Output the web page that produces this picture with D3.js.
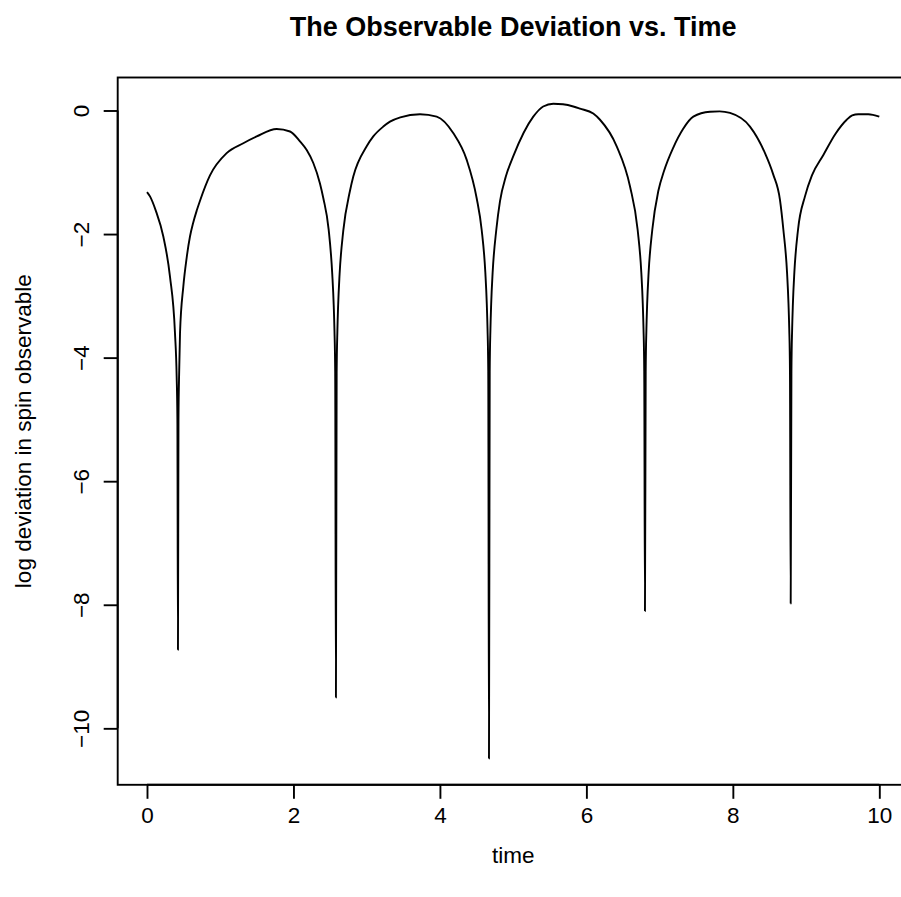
<!DOCTYPE html>
<html>
<head>
<meta charset="utf-8">
<script src="https://cdn.jsdelivr.net/npm/d3@7"></script>
<style>
  html, body { margin: 0; padding: 0; background: #fff; }
  svg { display: block; font-family: "Liberation Sans", Arial, Helvetica, sans-serif; }
</style>
</head>
<body>
<svg id="chart" width="901" height="897"></svg>
<script>
// ---- data ----
const chartTitle = "The Observable Deviation vs. Time";
const xLabel = "time";
const yLabel = "log deviation in spin observable";

const time = [
  0, 0.041, 0.12, 0.223, 0.314, 0.382, 0.405, 0.415, 0.423, 0.43, 0.44, 0.451,
  0.496, 0.542, 0.587, 0.63, 0.679, 0.724, 0.86, 1.088, 1.315, 1.498, 1.771, 1.953,
  2.089, 2.181, 2.271, 2.362, 2.408, 2.48, 2.53, 2.55, 2.56, 2.57, 2.58, 2.59,
  2.60, 2.61, 2.63, 2.68, 2.772, 2.817, 3.0, 3.09, 3.227, 3.318, 3.459, 3.728,
  3.956, 4.184, 4.366, 4.502, 4.57, 4.62, 4.64, 4.65, 4.66, 4.67, 4.68, 4.69,
  4.70, 4.72, 4.77, 4.82, 4.9, 5.002, 5.275, 5.41, 5.548, 5.68, 5.821, 5.913, 6.094, 6.186,
  6.414, 6.596, 6.70, 6.75, 6.77, 6.78, 6.79, 6.80, 6.81, 6.82, 6.83, 6.85,
  6.90, 6.983, 7.06, 7.187, 7.32, 7.46, 7.688, 7.82, 7.961, 8.234, 8.439, 8.55, 8.644, 8.69, 8.74,
  8.76, 8.77, 8.78, 8.79, 8.80, 8.81, 8.82, 8.84, 8.89, 8.985, 9.08, 9.236, 9.4, 9.555,
  9.63, 9.713, 9.85, 10
];
const logDeviation = [
  -1.32, -1.39, -1.62, -2.04, -2.69, -3.60, -4.30, -5.00, -8.73, -5.00, -4.20, -3.60,
  -2.85, -2.38, -2.04, -1.82, -1.62, -1.46, -1.05, -0.69, -0.53, -0.42, -0.30, -0.34,
  -0.50, -0.64, -0.85, -1.18, -1.42, -1.92, -2.65, -3.16, -3.56, -4.25, -9.50, -4.25,
  -3.56, -3.16, -2.65, -1.95, -1.30, -1.07, -0.58, -0.42, -0.26, -0.18, -0.11, -0.06,
  -0.10, -0.37, -0.80, -1.42, -1.93, -2.62, -3.13, -3.53, -4.22, -10.49, -4.22, -3.53,
  -3.13, -2.62, -1.93, -1.47, -1.07, -0.74, -0.10, 0.065, 0.11, 0.10, 0.065, 0.03, -0.05, -0.15,
  -0.58, -1.23, -1.93, -2.62, -3.13, -3.53, -4.22, -8.10, -4.22, -3.53, -3.13, -2.62,
  -1.93, -1.30, -0.98, -0.60, -0.30, -0.10, -0.02, -0.015, -0.04, -0.26, -0.69, -1.03, -1.45, -1.93, -2.62,
  -3.13, -3.53, -4.22, -7.98, -4.22, -3.53, -3.13, -2.62, -1.93, -1.39, -1.05, -0.72, -0.38, -0.15,
  -0.08, -0.06, -0.06, -0.10
];
const xTicks = [0, 2, 4, 6, 8, 10];
const yTicks = [0, -2, -4, -6, -8, -10];

// ---- layout ----
const svg = d3.select("#chart");
const plot = { left: 117.7, right: 908.6, top: 77.5, bottom: 784.8 };

// R-style 4% domain extension
const xMin = d3.min(time), xMax = d3.max(time);
const yMin = d3.min(logDeviation), yMax = d3.max(logDeviation);
const xPad = (xMax - xMin) * 0.04, yPad = (yMax - yMin) * 0.04;

const x = d3.scaleLinear().domain([xMin - xPad, xMax + xPad]).range([plot.left, plot.right]);
const y = d3.scaleLinear().domain([yMin - yPad, yMax + yPad]).range([plot.bottom, plot.top]);

const fontSize = 22.5;
const lw = 1.9;

// plot box
svg.append("rect")
  .attr("x", plot.left).attr("y", plot.top)
  .attr("width", plot.right - plot.left).attr("height", plot.bottom - plot.top)
  .attr("fill", "none").attr("stroke", "#000").attr("stroke-width", lw);

// x axis
const xAxis = d3.axisBottom(x).tickValues(xTicks).tickSize(14).tickPadding(8)
  .tickFormat(d3.format("d"));
const gx = svg.append("g").attr("transform", `translate(0,${plot.bottom})`).call(xAxis);
gx.select(".domain").attr("d", `M${x(xTicks[0])},0H${x(xTicks[xTicks.length-1])}`)
  .attr("stroke-width", lw);
gx.selectAll(".tick line").attr("stroke-width", lw);
gx.selectAll(".tick text").attr("font-size", fontSize).attr("font-family", "Liberation Sans, Arial, sans-serif").attr("fill", "#000");

// y axis
const yAxis = d3.axisLeft(y).tickValues(yTicks).tickSize(14).tickPadding(0)
  .tickFormat(d => d3.format("d")(d).replace("-", "\u2212"));
const gy = svg.append("g").attr("transform", `translate(${plot.left},0)`).call(yAxis);
gy.select(".domain").attr("d", `M0,${y(yTicks[yTicks.length-1])}V${y(yTicks[0])}`)
  .attr("stroke-width", lw);
gy.selectAll(".tick line").attr("stroke-width", lw);
gy.selectAll(".tick text")
  .attr("font-size", fontSize).attr("font-family", "Liberation Sans, Arial, sans-serif").attr("fill", "#000")
  .attr("x", null).attr("dy", null)
  .attr("text-anchor", "middle")
  .attr("transform", "translate(-29,0) rotate(-90)");

// line
const line = d3.line()
  .x((d, i) => x(time[i]))
  .y(d => y(d))
  .curve(d3.curveMonotoneX);
svg.append("path")
  .datum(logDeviation)
  .attr("d", line)
  .attr("fill", "none")
  .attr("stroke", "#000")
  .attr("stroke-width", lw)
  .attr("stroke-linejoin", "round");

// title
svg.append("text")
  .attr("x", (plot.left + plot.right) / 2).attr("y", 36)
  .attr("text-anchor", "middle")
  .attr("font-size", 27).attr("font-weight", "bold")
  .text(chartTitle);

// axis labels
svg.append("text")
  .attr("x", (plot.left + plot.right) / 2).attr("y", 863)
  .attr("text-anchor", "middle")
  .attr("font-size", fontSize)
  .text(xLabel);

svg.append("text")
  .attr("transform", `translate(31,${(plot.top + plot.bottom) / 2}) rotate(-90)`)
  .attr("text-anchor", "middle")
  .attr("font-size", fontSize)
  .text(yLabel);
</script>
</body>
</html>
